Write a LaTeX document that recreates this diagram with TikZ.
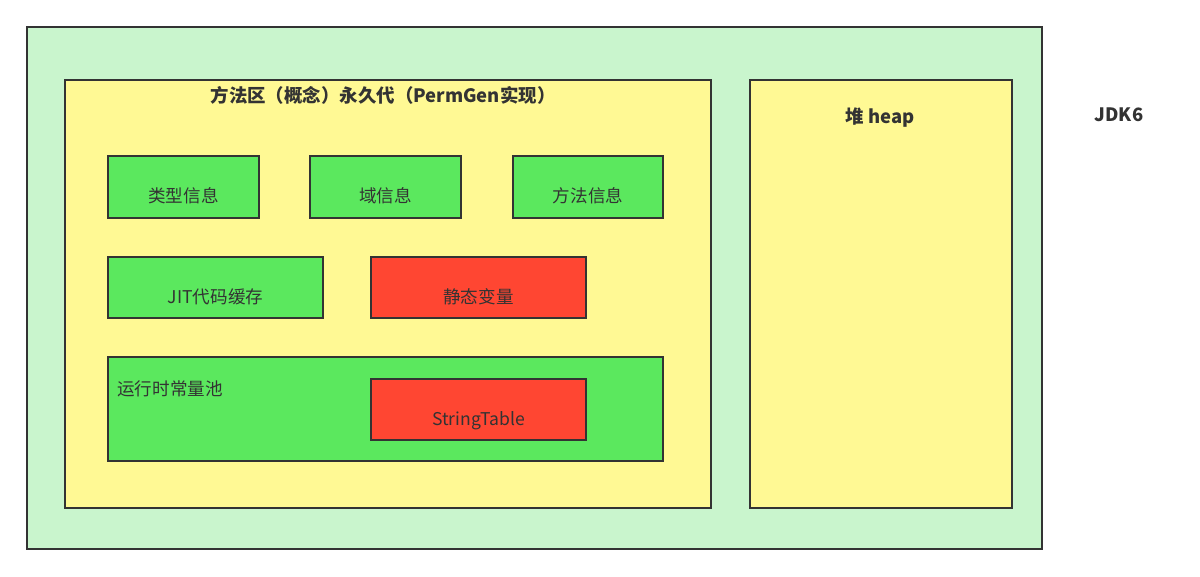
\documentclass[tikz,border=0pt]{standalone}
\usepackage{fontspec}
\setmainfont{Noto Sans CJK SC}
\usepackage{tikz}
\usetikzlibrary{positioning}
\definecolor{outergreen}{HTML}{C9F5CD}
\definecolor{areayellow}{HTML}{FFF994}
\definecolor{boxgreen}{HTML}{5BE85E}
\definecolor{boxred}{HTML}{FF4632}
\definecolor{textgray}{HTML}{333333}
\begin{document}
\begin{tikzpicture}[x=0.02cm,y=-0.02cm]
    \tikzstyle{area} = [draw=black!80, thick, fill=areayellow]
    \tikzstyle{gbox} = [draw=black!80, thick, fill=boxgreen, text=textgray, font=\fontsize{10}{12}\selectfont, text height=20pt, text depth=2pt]
    \tikzstyle{rbox} = [gbox, fill=boxred]
    \tikzstyle{title} = [text=textgray, font=\fontsize{10.5}{12}\selectfont\bfseries]
    \useasboundingbox (0,0) rectangle (1200,576);
    \draw[thick, draw=black!80, fill=outergreen] (27,27) rectangle (1042,549);
    \draw[area] (65,80) rectangle (711,508);
    \draw[area] (750,80) rectangle (1012,508);
    \node[title] (perm) at (383,95) {方法区（概念）永久代（PermGen实现）};
    \node[title] (heap) at (880,118) {堆 heap};
    \node[title] (jdk) at (1119,115) {JDK6};

    \node[gbox, minimum width=3.02cm, minimum height=1.24cm] (type) at (183.5,187) {类型信息};
    \node[gbox, minimum width=3.02cm, minimum height=1.24cm] (field) at (385.5,187) {域信息};
    \node[gbox, minimum width=3.0cm, minimum height=1.24cm] (method) at (588,187) {方法信息};

    \node[gbox, minimum width=4.3cm, minimum height=1.22cm] (jit) at (215.5,287.5) {JIT代码缓存};
    \node[rbox, minimum width=4.3cm, minimum height=1.22cm] (static) at (478.5,287.5) {静态变量};

    \draw[gbox] (108,357) rectangle (663,461);
    \node[text=textgray, font=\fontsize{10}{12}\selectfont] (pool) at (170,389) {运行时常量池};
    \node[rbox, minimum width=4.3cm, minimum height=1.22cm] (strtab) at (478.5,409.5) {StringTable};
\end{tikzpicture}
\end{document}
